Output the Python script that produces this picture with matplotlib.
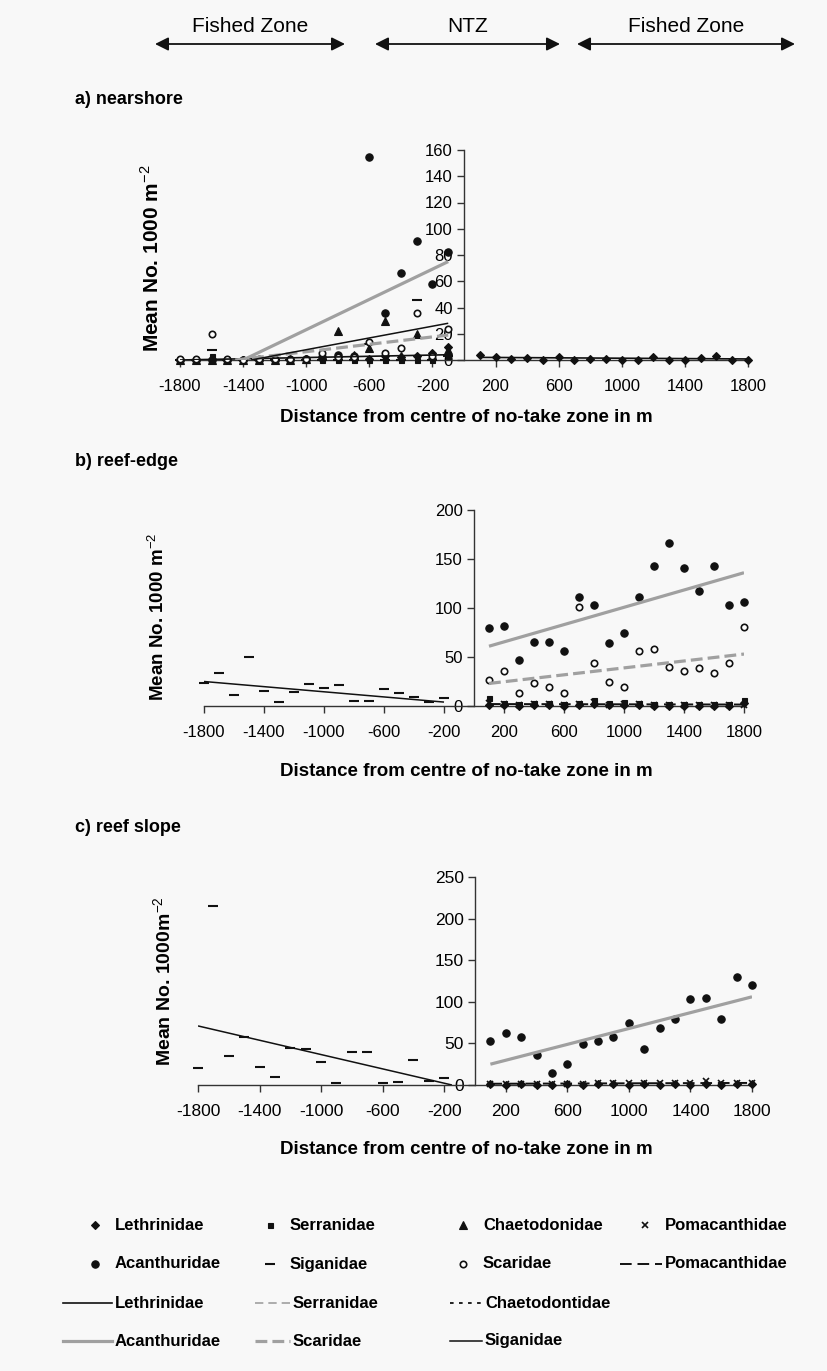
import matplotlib.pyplot as plt

plt.rcParams['font.family'] = ['Liberation Sans', 'DejaVu Sans']
plt.rcParams['mathtext.fontset'] = 'custom'
plt.rcParams['mathtext.rm'] = 'Liberation Sans'
plt.rcParams['mathtext.bf'] = 'Liberation Sans:bold'
plt.rcParams['axes.unicode_minus'] = False

W, H = 828, 1371
GREY = '#a0a0a0'
INK = '#111111'
BG = '#f8f8f8'

# stations, m from the centre of the no-take zone
west = [-1800, -1700, -1600, -1500, -1400, -1300, -1200, -1100, -1000,
        -900, -800, -700, -600, -500, -400, -300, -200, -100]
east = [100, 200, 300, 400, 500, 600, 700, 800, 900,
        1000, 1100, 1200, 1300, 1400, 1500, 1600, 1700, 1800]
west_sig = west[:-1]
xticks = [-1800, -1400, -1000, -600, -200, 200, 600, 1000, 1400, 1800]

# a) nearshore
a_leth_w = [0, 0, 1, 0, 0, 0, 0, 1, 1, 1, 2, 2, 1, 3, 2, 3, 5, 10]
a_serr_w = [0, 0, 3, 0, 0, 0, 0, 0, 0, 0, 0, 0, 0, 0, 0, 0, 0, 3]
a_chae_w = [0, 0, 0, 0, 0, 0, 0, 0, 1, 3, 22, 4, 9, 30, 3, 20, 4, 8]
a_acan_w = [0, 0, 0, 0, 0, 0, 0, 0, 1, 2, 4, 3, 155, 36, 66, 91, 58, 82]
a_siga_w = [0, 0, 8, 0, 0, 0, 0, 0, 0, 0, 0, 0, 12, 0, 0, 46, 0, 3]
a_scar_w = [1, 1, 20, 1, 0, 1, 1, 1, 1, 5, 2, 2, 14, 5, 9, 36, 3, 24]
a_leth_e = [3.8, 2.5, 0.5, 1.3, 0.3, 2.5, 0.2, 0.8, 0.8, 0.2, 0.2, 2.0,
            0.2, 0.2, 1.3, 2.8, 0.2, 0.2]
# fitted trend lines: end points (x, y)
a_acan_fit = ([-1400, -100], [0, 75])
a_leth_fit = ([-1350, -100], [0, 28])
a_scar_fit = ([-1450, -100], [0, 19])
a_leth_base = ([-1800, -100], [0, 4])
a_leth_fit_e = ([100, 1800], [2, 0.8])

# b) reef-edge
b_siga_w = [23, 34, 11, 50, 15, 4, 14, 22, 18, 21, 5, 5, 17, 13, 9, 4, 8]
b_acan_e = [80, 82, 47, 65, 65, 56, 111, 103, 64, 75, 111, 143, 166, 141,
            117, 143, 103, 106]
b_scar_e = [27, 36, 13, 23, 19, 13, 101, 44, 24, 19, 56, 58, 40, 36, 39,
            34, 44, 81]
b_serr_e = [8, 3, 2, 3, 3, 2, 3, 6, 3, 4, 3, 2, 2, 2, 2, 2, 2, 6]
b_poma_e = [3, 2, 1, 2, 2, 1, 2, 4, 1, 2, 2, 1, 1, 1, 1, 1, 1, 1]
b_leth_e = [1, 1, 0, 1, 1, 0, 1, 2, 1, 1, 1, 0, 0, 0, 0, 0, 0, 3]
b_siga_fit = ([-1800, -200], [25, 4])
b_acan_fit = ([100, 1800], [61, 136])
b_scar_fit = ([100, 1800], [23, 53])
b_poma_fit = ([100, 1800], [2, 1.5])

# c) reef slope
c_siga_w = [20, 215, 35, 58, 22, 10, 45, 43, 28, 2, 40, 40, 3, 4, 30, 5, 8]
c_acan_e = [53, 62, 58, 36, 15, 25, 49, 53, 58, 74, 43, 68, 79, 103, 105,
            79, 130, 120]
c_poma_e = [1, 1, 1, 1, 1, 1, 1, 2, 2, 2, 2, 2, 2, 3, 5, 2, 2, 2]
c_leth_e = [1, 0, 1, 0, 0, 1, 0, 1, 1, 0, 1, 0, 1, 0, 1, 0, 1, 1]
c_siga_fit = ([-1800, -150], [71, 0])
c_acan_fit = ([100, 1800], [25, 106])
c_poma_fit = ([100, 1800], [1.5, 2.5])

MK = {
    'Lethrinidae': dict(marker='D', ms=3.8, mfc=INK, mec=INK, mew=0.8),
    'Serranidae': dict(marker='s', ms=3.6, mfc=INK, mec=INK, mew=0.8),
    'Chaetodonidae': dict(marker='^', ms=5.2, mfc=INK, mec=INK, mew=0.8),
    'Pomacanthidae': dict(marker='x', ms=4.0, mfc=INK, mec=INK, mew=1.2),
    'Acanthuridae': dict(marker='o', ms=5.3, mfc=INK, mec=INK, mew=0.8),
    'Siganidae': dict(marker='_', ms=7.5, mfc=INK, mec=INK, mew=1.5),
    'Scaridae': dict(marker='o', ms=4.6, mfc='white', mec=INK, mew=1.2),
}
LN = {
    'Lethrinidae': dict(color=INK, lw=1.2, ls='-'),
    'Serranidae': dict(color=GREY, lw=1.2, ls=(0, (5, 3))),
    'Chaetodontidae': dict(color=INK, lw=1.3, ls=(0, (2, 3))),
    'Pomacanthidae': dict(color=INK, lw=1.4, ls=(0, (6, 3))),
    'Acanthuridae': dict(color=GREY, lw=2.3, ls='-'),
    'Scaridae': dict(color=GREY, lw=2.3, ls=(0, (3.7, 1.6))),
    'Siganidae': dict(color=INK, lw=1.1, ls='-'),
}

fig = plt.figure(figsize=(W / 100, H / 100), dpi=100, facecolor=BG)


def panel(x_lo, x_hi, y_top, y_bot, ymax, ystep, size=12):
    ax = fig.add_axes([x_lo / W, 1 - y_bot / H, (x_hi - x_lo) / W,
                       (y_bot - y_top) / H])
    ax.patch.set_alpha(0)
    ax.set_xlim(-1800, 1800)
    ax.set_ylim(0, ymax)
    for s in ('top', 'right'):
        ax.spines[s].set_visible(False)
    ax.spines['left'].set_position(('data', 0))
    for s in ('left', 'bottom'):
        ax.spines[s].set_color('#333333')
        ax.spines[s].set_linewidth(1.0)
    ax.set_xticks(xticks)
    ax.set_yticks(range(0, ymax + 1, ystep))
    ax.tick_params(direction='out', length=5, width=1, color='#333333',
                   labelsize=size)
    ax.tick_params(axis='x', pad=9)
    ax.tick_params(axis='y', pad=3)
    return ax


def dots(ax, x, y, name, z=3):
    ax.plot(x, y, ls='none', clip_on=False, zorder=z, **MK[name])


def fit(ax, line, name, z=4):
    ax.plot(line[0], line[1], zorder=z, solid_capstyle='butt', **LN[name])


# a) nearshore -- open Scaridae circles sit on top of the others
ax = panel(180, 748, 150, 360, 160, 20)
dots(ax, west, a_leth_w, 'Lethrinidae')
dots(ax, west, a_serr_w, 'Serranidae')
dots(ax, west, a_chae_w, 'Chaetodonidae')
dots(ax, west, a_acan_w, 'Acanthuridae')
dots(ax, west, a_siga_w, 'Siganidae')
dots(ax, west, a_scar_w, 'Scaridae')
dots(ax, east, a_leth_e, 'Lethrinidae')
fit(ax, a_leth_base, 'Lethrinidae')
fit(ax, a_scar_fit, 'Scaridae')
fit(ax, a_leth_fit, 'Siganidae')
fit(ax, a_acan_fit, 'Acanthuridae')
fit(ax, a_leth_fit_e, 'Lethrinidae')

# b) reef-edge
ax = panel(204, 744, 510, 706, 200, 50)
dots(ax, west_sig, b_siga_w, 'Siganidae')
dots(ax, east, b_leth_e, 'Lethrinidae')
dots(ax, east, b_serr_e, 'Serranidae')
dots(ax, east, b_acan_e, 'Acanthuridae')
dots(ax, east, b_scar_e, 'Scaridae')
dots(ax, east, b_poma_e, 'Pomacanthidae')
fit(ax, b_siga_fit, 'Siganidae')
fit(ax, b_poma_fit, 'Pomacanthidae')
fit(ax, b_scar_fit, 'Scaridae')
fit(ax, b_acan_fit, 'Acanthuridae')

# c) reef slope
ax = panel(198, 752, 877, 1085, 250, 50, size=12.5)
dots(ax, west_sig, c_siga_w, 'Siganidae')
dots(ax, east, c_leth_e, 'Lethrinidae')
dots(ax, east, c_acan_e, 'Acanthuridae')
dots(ax, east, c_poma_e, 'Pomacanthidae')
fit(ax, c_siga_fit, 'Siganidae')
fit(ax, c_poma_fit, 'Pomacanthidae')
fit(ax, c_acan_fit, 'Acanthuridae')

# page-level overlay in pixel units for titles, zone arrows and key
top = fig.add_axes([0, 0, 1, 1])
top.set_xlim(0, W)
top.set_ylim(H, 0)
top.axis('off')

xlab = 'Distance from centre of no-take zone in m'
for title, ty, lab, lx, ly, lsize, xy in [
        ('a) nearshore', 100, r'Mean No. 1000 m$^{-2}$', 152, 258, 15, 418),
        ('b) reef-edge', 462, r'Mean No. 1000 m$^{-2}$', 158, 617, 13.5, 771),
        ('c) reef slope', 827, r'Mean No. 1000m$^{-2}$', 164, 981, 14, 1149)]:
    top.text(75, ty, title, fontsize=13, fontweight='bold', va='center')
    top.text(lx, ly, lab, fontsize=lsize, fontweight='bold', rotation=90,
             ha='center', va='center')
    top.text(466, xy, xlab, fontsize=13.5, fontweight='bold',
             ha='center', va='center')

zones = [(155, 345, 'Fished Zone'), (375, 560, 'NTZ'),
         (577, 795, 'Fished Zone')]
for x0, x1, name in zones:
    top.annotate('', xy=(x1, 44), xytext=(x0, 44),
                 arrowprops=dict(arrowstyle='<|-|>', color=INK, lw=1.3,
                                 mutation_scale=20, shrinkA=0, shrinkB=0))
    top.text((x0 + x1) / 2, 26, name, fontsize=15, ha='center',
             va='center')

# key: four columns of symbols, then the trend-line styles
cols = [95, 270, 463, 645]
rows = [1225, 1264, 1303, 1341]
key_marks = [
    ['Lethrinidae', 'Serranidae', 'Chaetodonidae', 'Pomacanthidae'],
    ['Acanthuridae', 'Siganidae', 'Scaridae', None],
]
for r, names in enumerate(key_marks):
    for c, name in enumerate(names):
        if name is None:
            continue
        top.plot([cols[c]], [rows[r]], ls='none', **MK[name])
        top.text(cols[c] + 20, rows[r], name, fontsize=12,
                 fontweight='bold', va='center')
key_lines = [
    (1, 3, 'Pomacanthidae', 'Pomacanthidae'),
    (2, 0, 'Lethrinidae', 'Lethrinidae'),
    (2, 1, 'Serranidae', 'Serranidae'),
    (2, 2, 'Chaetodontidae', 'Chaetodontidae'),
    (3, 0, 'Acanthuridae', 'Acanthuridae'),
    (3, 1, 'Scaridae', 'Scaridae'),
    (3, 2, 'Siganidae', 'Siganidae'),
]
seg = {0: (63, 112), 1: (255, 290), 2: (450, 482), 3: (620, 662)}
for r, c, style, name in key_lines:
    top.plot(seg[c], [rows[r], rows[r]], **LN[style])
    top.text(seg[c][1] + 3, rows[r], name, fontsize=12,
             fontweight='bold', va='center')

fig.savefig('out.png', dpi=100, facecolor=BG)
